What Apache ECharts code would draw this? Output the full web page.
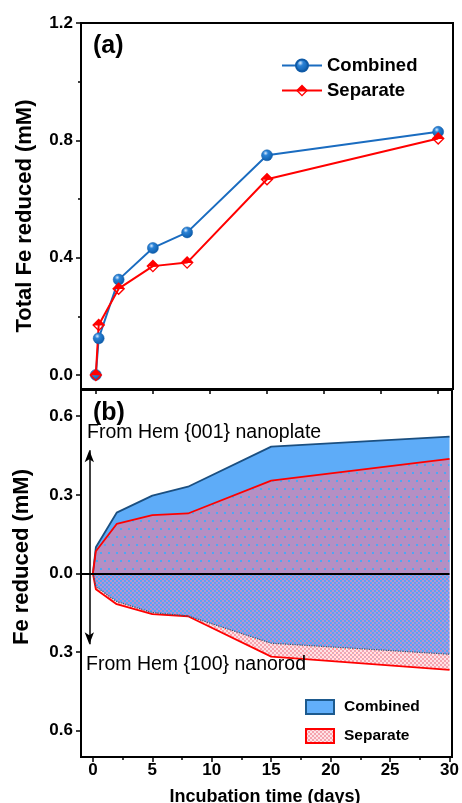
<!DOCTYPE html>
<html><head><meta charset="utf-8">
<script src="https://cdn.jsdelivr.net/npm/echarts@6/dist/echarts.min.js"></script>
<style>html,body{margin:0;padding:0;background:#fff}#c{width:462px;height:803px}</style>
</head><body><div id="c"></div>
<script>
// ---- Panel (a) data ----
const days = [0, 0.25, 2, 5, 8, 15, 30];
const combinedTotal = [0, 0.125, 0.325, 0.433, 0.486, 0.749, 0.829];
const separateTotal = [0, 0.170, 0.294, 0.371, 0.383, 0.667, 0.806];
// ---- Panel (b) data ----
const bDays = [0, 0.25, 2, 5, 8, 15, 30];
const combinedUpper = [0, 0.100, 0.232, 0.297, 0.331, 0.484, 0.522];
const separateUpper = [0, 0.085, 0.189, 0.223, 0.229, 0.354, 0.437];
const combinedLower = [0, -0.050, -0.107, -0.149, -0.162, -0.266, -0.308];
const separateLower = [0, -0.060, -0.117, -0.155, -0.163, -0.317, -0.368];
// ---- ticks ----
const aXTicks = [0, 5, 10, 15, 20, 25, 30];
const aYTicks = [0, 0.4, 0.8, 1.2];
const aYMinor = [0.2, 0.6, 1.0];
const bXTicks = [0, 5, 10, 15, 20, 25, 30];
const bXMinor = [2.5, 7.5, 12.5, 17.5, 22.5, 27.5];
const bYTicks = [-0.6, -0.3, 0, 0.3, 0.6];

const FONT = '"Liberation Sans", Arial, sans-serif';
const zip = (xs, ys) => xs.map((x, i) => [x, ys[i]]);

function pattern(w, h, draw) {
  const c = document.createElement('canvas');
  c.width = w; c.height = h;
  draw(c.getContext('2d'));
  return { image: c, repeat: 'repeat' };
}
const mauveDots = pattern(8, 16, ctx => {
  ctx.fillStyle = '#b58fc3'; ctx.fillRect(0, 0, 8, 16);
  ctx.fillStyle = '#4ea7f3';
  ctx.fillRect(0, 0, 2, 2); ctx.fillRect(4, 8, 2, 2);
});
const blueChecker = pattern(4, 4, ctx => {
  ctx.fillStyle = '#b992d0'; ctx.fillRect(0, 0, 4, 4);
  ctx.fillStyle = '#58a5f5';
  ctx.fillRect(0, 0, 2, 2); ctx.fillRect(2, 2, 2, 2);
});
const pinkChecker = pattern(4, 4, ctx => {
  ctx.fillStyle = '#fde3e7'; ctx.fillRect(0, 0, 4, 4);
  ctx.fillStyle = '#f5a3ae';
  ctx.fillRect(0, 0, 2, 2); ctx.fillRect(2, 2, 2, 2);
});

const halfDiamond = 'path://M0,-10 L10,0 L0,10 L-10,0 Z M-6.4,0.6 L0,7 L6.4,0.6 Z';
const ballColor = {
  type: 'radial', x: 0.38, y: 0.32, r: 0.7,
  colorStops: [
    { offset: 0, color: '#d9ecff' },
    { offset: 0.3, color: '#2a82d6' },
    { offset: 1, color: '#0b5aa8' }
  ]
};

const tickLabel = { color: '#000', fontFamily: FONT, fontWeight: 'bold', fontSize: 17 };
const axisLine = { show: true, onZero: false, lineStyle: { color: '#000', width: 2 } };
const noLine = { show: false, onZero: false };

const chart = echarts.init(document.getElementById('c'), null, { renderer: 'canvas' });
chart.setOption({
  animation: false,
  backgroundColor: '#fff',
  grid: [
    { left: 81, top: 23, width: 372, height: 366 },
    { left: 81, top: 390, width: 371, height: 367 }
  ],
  xAxis: [
    { type: 'value', gridIndex: 0, min: -1.3, max: 31.3, position: 'bottom',
      axisLine: axisLine, splitLine: { show: false },
      axisTick: { show: true, customValues: aXTicks, length: 5, lineStyle: { color: '#000', width: 1.5 } },
      axisLabel: { show: false } },
    { type: 'value', gridIndex: 1, min: -1, max: 30, position: 'bottom',
      axisLine: axisLine, splitLine: { show: false },
      axisTick: { show: true, customValues: bXTicks, length: 5, lineStyle: { color: '#000', width: 1.5 } },
      axisLabel: Object.assign({ customValues: bXTicks, margin: 5 }, tickLabel) },
    { type: 'value', gridIndex: 1, min: -1, max: 30, position: 'bottom',
      axisLine: noLine, splitLine: { show: false },
      axisTick: { show: true, customValues: bXMinor, length: 3, lineStyle: { color: '#000', width: 1.5 } },
      axisLabel: { show: false } }
  ],
  yAxis: [
    { type: 'value', gridIndex: 0, min: -0.048, max: 1.2, position: 'left',
      axisLine: axisLine, splitLine: { show: false },
      axisTick: { show: true, customValues: aYTicks, length: 5, lineStyle: { color: '#000', width: 1.5 } },
      axisLabel: Object.assign({ customValues: aYTicks, margin: 8, formatter: v => v.toFixed(1) }, tickLabel) },
    { type: 'value', gridIndex: 0, min: -0.048, max: 1.2, position: 'left',
      axisLine: noLine, splitLine: { show: false },
      axisTick: { show: true, customValues: aYMinor, length: 3, lineStyle: { color: '#000', width: 1.5 } },
      axisLabel: { show: false } },
    { type: 'value', gridIndex: 1, min: -0.7, max: 0.7, position: 'left',
      axisLine: axisLine, splitLine: { show: false },
      axisTick: { show: true, customValues: bYTicks, length: 5, lineStyle: { color: '#000', width: 1.5 } },
      axisLabel: Object.assign({ customValues: bYTicks, margin: 8, formatter: v => Math.abs(v).toFixed(1) }, tickLabel) }
  ],
  legend: [
    { data: ['Combined', 'Separate'], orient: 'vertical', left: 276, top: 51,
      itemWidth: 40, itemHeight: 15, itemGap: 6, selectedMode: false,
      textStyle: { fontFamily: FONT, fontWeight: 'bold', fontSize: 18.5, color: '#000' } },
    { orient: 'vertical', left: 300, top: 694, itemWidth: 28, itemHeight: 14, itemGap: 13, selectedMode: false,
      textStyle: { fontFamily: FONT, fontWeight: 'bold', fontSize: 15.5, color: '#000', padding: [0, 0, 0, 5] },
      data: [
        { name: 'Combined', icon: 'rect', itemStyle: { color: '#62affa', borderColor: '#1d5a8e', borderWidth: 2 } },
        { name: 'Separate', icon: 'rect', itemStyle: { color: pinkChecker, borderColor: '#ff0000', borderWidth: 2 } }
      ] }
  ],
  series: [
    { name: 'Combined', type: 'line', xAxisIndex: 0, yAxisIndex: 0, data: zip(days, combinedTotal),
      symbol: 'circle', symbolSize: 11,
      lineStyle: { color: '#1a6cc0', width: 2 },
      itemStyle: { color: ballColor, borderColor: '#0f5aa6', borderWidth: 0.5 } },
    { name: 'Separate', type: 'line', xAxisIndex: 0, yAxisIndex: 0, data: zip(days, separateTotal),
      symbol: halfDiamond, symbolSize: 13,
      lineStyle: { color: '#ff0000', width: 2 },
      itemStyle: { color: '#ff0000' } },
    { name: 'Combined', type: 'line', xAxisIndex: 1, yAxisIndex: 2, data: zip(bDays, combinedUpper),
      showSymbol: false, lineStyle: { color: '#1b4f80', width: 1.8 },
      itemStyle: { color: '#62affa' }, areaStyle: { color: '#5eacf8', opacity: 1 } },
    { name: 'Separate', type: 'line', xAxisIndex: 1, yAxisIndex: 2, data: zip(bDays, separateUpper),
      showSymbol: false, lineStyle: { color: '#ff0000', width: 1.8 },
      itemStyle: { color: '#ff0000' }, areaStyle: { color: mauveDots, opacity: 1 } },
    { name: 'Separate', type: 'line', xAxisIndex: 1, yAxisIndex: 2, data: zip(bDays, separateLower),
      showSymbol: false, lineStyle: { color: '#ff0000', width: 1.8 },
      itemStyle: { color: '#ff0000' }, areaStyle: { color: pinkChecker, opacity: 1 } },
    { name: 'Combined', type: 'line', xAxisIndex: 1, yAxisIndex: 2, data: zip(bDays, combinedLower),
      showSymbol: false, lineStyle: { color: '#3a5572', width: 1.2, type: 'dotted' },
      itemStyle: { color: '#62affa' }, areaStyle: { color: blueChecker, opacity: 1 },
      markLine: {
        silent: true, symbol: ['none', 'none'], symbolSize: [7, 12],
        label: { show: false },
        lineStyle: { color: '#000', width: 2, type: 'solid' },
        data: [
          { yAxis: 0 },
          [ { coord: [-0.3, 0.47], symbol: 'arrow', lineStyle: { width: 1.5 } },
            { coord: [-0.3, -0.27], symbol: 'arrow' } ]
        ]
      } }
  ],
  graphic: [
    { type: 'rect', shape: { x: 81, y: 23, width: 372, height: 366 }, z: 100, silent: true,
      style: { fill: 'none', stroke: '#000', lineWidth: 2 } },
    { type: 'rect', shape: { x: 81, y: 390, width: 371, height: 367 }, z: 100, silent: true,
      style: { fill: 'none', stroke: '#000', lineWidth: 2 } },
    { type: 'text', x: 93, y: 46, z: 100, style: { text: '(a)', font: 'bold 25px ' + FONT, fill: '#000', textAlign: 'left', textVerticalAlign: 'middle', align: 'left', verticalAlign: 'middle' } },
    { type: 'text', x: 93, y: 413, z: 100, style: { text: '(b)', font: 'bold 25px ' + FONT, fill: '#000', textAlign: 'left', textVerticalAlign: 'middle', align: 'left', verticalAlign: 'middle' } },
    { type: 'text', x: 87, y: 433, z: 100, style: { text: 'From Hem {001} nanoplate', font: '19.5px ' + FONT, fill: '#000', textAlign: 'left', textVerticalAlign: 'middle', align: 'left', verticalAlign: 'middle' } },
    { type: 'text', x: 86, y: 665, z: 100, style: { text: 'From Hem {100} nanorod', font: '19.5px ' + FONT, fill: '#000', textAlign: 'left', textVerticalAlign: 'middle', align: 'left', verticalAlign: 'middle' } },
    { type: 'text', x: 25, y: 216, rotation: Math.PI / 2, z: 100, style: { text: 'Total Fe reduced (mM)', font: 'bold 22px ' + FONT, fill: '#000', textAlign: 'center', textVerticalAlign: 'middle', align: 'center', verticalAlign: 'middle' } },
    { type: 'text', x: 22, y: 557, rotation: Math.PI / 2, z: 100, style: { text: 'Fe reduced (mM)', font: 'bold 22px ' + FONT, fill: '#000', textAlign: 'center', textVerticalAlign: 'middle', align: 'center', verticalAlign: 'middle' } },
    { type: 'text', x: 265, y: 797, z: 100, style: { text: 'Incubation time (days)', font: 'bold 18px ' + FONT, fill: '#000', textAlign: 'center', textVerticalAlign: 'middle', align: 'center', verticalAlign: 'middle' } }
  ]
});
</script>
</body></html>
